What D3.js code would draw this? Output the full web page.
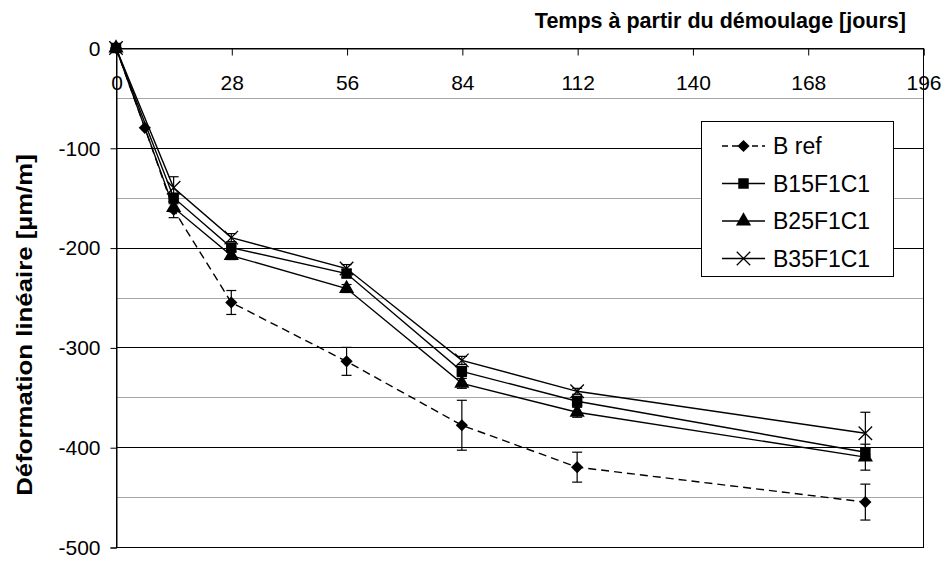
<!DOCTYPE html>
<html>
<head>
<meta charset="utf-8">
<script src="https://cdn.jsdelivr.net/npm/d3@7/dist/d3.min.js"></script>
<style>
  html, body { margin: 0; padding: 0; background: #fff; }
  svg { display: block; font-family: "Liberation Sans", Arial, sans-serif; }
</style>
</head>
<body>
<svg id="chart" width="948" height="561"></svg>
<script>
// Shrinkage measurements (µm/m) after demoulding
const daysRef = [0, 7, 14, 28, 56, 84, 112, 182];
const daysFib = [0, 14, 28, 56, 84, 112, 182];

const bRef      = [0, -80, -162, -255, -314, -378, -420, -455];
const bRefErr   = [0, 0, 8, 12, 14, 25, 15, 18];
const b15F1C1   = [0, -150, -200, -226, -324, -354, -405];
const b15Err    = [0, 4, 4, 4, 5, 5, 4];
const b25F1C1   = [0, -160, -208, -241, -336, -365, -410];
const b25Err    = [0, 4, 4, 4, 5, 5, 13];
const b35F1C1   = [0, -140, -190, -221, -313, -344, -386];
const b35Err    = [0, 11, 4, 4, 4, 3, 21];

const seriesNames = ["B ref", "B15F1C1", "B25F1C1", "B35F1C1"];
const xTicks = [0, 28, 56, 84, 112, 140, 168, 196];
const yMajorTicks = [0, -100, -200, -300, -400, -500];
const yMinorTicks = [-50, -150, -250, -350, -450];
const xTitle = "Temps à partir du démoulage [jours]";
const yTitle = "Déformation linéaire [µm/m]";

const series = [
  { name: seriesNames[0], x: daysRef, y: bRef, err: bRefErr, symbol: "diamond", dash: "8,5" },
  { name: seriesNames[1], x: daysFib, y: b15F1C1, err: b15Err, symbol: "square", dash: null },
  { name: seriesNames[2], x: daysFib, y: b25F1C1, err: b25Err, symbol: "triangle", dash: null },
  { name: seriesNames[3], x: daysFib, y: b35F1C1, err: b35Err, symbol: "cross", dash: null }
];

const svg = d3.select("#chart");
const plotLeft = 116, plotRight = 923, plotTop = 48, plotBottom = 547;
const fontFamily = '"Liberation Sans", Arial, sans-serif';

const x = d3.scaleLinear().domain([0, 196]).range([plotLeft, plotRight]);
const y = d3.scaleLinear().domain([-500, 0]).range([plotBottom, plotTop]);

// Gridlines: light minor lines every 50, dark major lines every 100
svg.append("g").selectAll("line").data(yMinorTicks).join("line")
  .attr("x1", plotLeft).attr("x2", plotRight)
  .attr("y1", d => Math.round(y(d)) + 0.5).attr("y2", d => Math.round(y(d)) + 0.5)
  .attr("stroke", "#a6a6a6").attr("stroke-width", 1);
svg.append("g").selectAll("line").data(yMajorTicks.filter(d => d !== 0 && d !== -500)).join("line")
  .attr("x1", plotLeft).attr("x2", plotRight)
  .attr("y1", d => Math.round(y(d)) + 0.5).attr("y2", d => Math.round(y(d)) + 0.5)
  .attr("stroke", "#000").attr("stroke-width", 1);

// Plot area frame
svg.append("rect")
  .attr("x", plotLeft + 0.5).attr("y", plotTop + 0.5)
  .attr("width", plotRight - plotLeft).attr("height", plotBottom - plotTop)
  .attr("fill", "none").attr("stroke", "#000").attr("stroke-width", 1);

const plainNumber = d => String(d);

// X axis along the top (value 0), labels underneath
const xAxis = d3.axisBottom(x).tickValues(xTicks).tickSize(7).tickPadding(20).tickFormat(plainNumber);
const gx = svg.append("g").attr("transform", `translate(0.5,${plotTop + 0.5})`).call(xAxis);
gx.select(".domain").attr("stroke", "#000");
gx.selectAll("text").attr("font-size", 21).attr("fill", "#000").attr("font-family", fontFamily);

// Y axis on the left
const yAxis = d3.axisLeft(y).tickValues(yMajorTicks).tickSize(6).tickPadding(10).tickFormat(plainNumber);
const gy = svg.append("g").attr("transform", `translate(${plotLeft + 0.5},0.5)`).call(yAxis);
gy.select(".domain").attr("stroke", "#000");
gy.selectAll("text").attr("font-size", 21).attr("fill", "#000").attr("font-family", fontFamily);

// Axis titles
svg.append("text").attr("x", 906).attr("y", 28).attr("text-anchor", "end")
  .attr("font-size", 21.5).attr("font-weight", "bold").text(xTitle);
svg.append("text").attr("transform", "translate(32,325) rotate(-90) scale(1.2,1)").attr("text-anchor", "middle")
  .attr("font-size", 21.5).attr("font-weight", "bold").text(yTitle);

// Marker shapes
const symbolMap = {
  diamond: d3.symbol().type(d3.symbolDiamond2).size(95),
  square: d3.symbol().type(d3.symbolSquare).size(110),
  triangle: d3.symbol().type(d3.symbolTriangle).size(100),
  cross: d3.symbol().type(d3.symbolX).size(120)
};
function drawMarker(g, s, cx, cy) {
  const path = g.append("path").attr("d", symbolMap[s.symbol]())
    .attr("transform", `translate(${cx},${cy})`);
  if (s.symbol === "cross") path.attr("fill", "none").attr("stroke", "#000").attr("stroke-width", 1.3);
  else path.attr("fill", "#000");
}

const line = d3.line().x(d => x(d[0])).y(d => y(d[1]));
const plot = svg.append("g");

series.forEach(s => {
  const pts = s.x.map((d, i) => [d, s.y[i], s.err[i]]);
  // Error bars
  const eb = plot.append("g").attr("stroke", "#000").attr("stroke-width", 1.2);
  pts.filter(p => p[2] > 0).forEach(p => {
    const cx = x(p[0]);
    eb.append("line").attr("x1", cx).attr("x2", cx).attr("y1", y(p[1] + p[2])).attr("y2", y(p[1] - p[2]));
    [p[1] + p[2], p[1] - p[2]].forEach(v => {
      eb.append("line").attr("x1", cx - 5).attr("x2", cx + 5).attr("y1", y(v)).attr("y2", y(v));
    });
  });
  plot.append("path").datum(pts).attr("d", line)
    .attr("fill", "none").attr("stroke", "#000").attr("stroke-width", 1.4)
    .attr("stroke-dasharray", s.dash);
  const mg = plot.append("g");
  pts.forEach(p => drawMarker(mg, s, x(p[0]), y(p[1])));
});

// Legend
const legend = svg.append("g");
legend.append("rect").attr("x", 701.5).attr("y", 121.5).attr("width", 192).attr("height", 155)
  .attr("fill", "#fff").attr("stroke", "#000").attr("stroke-width", 1);
series.forEach((s, i) => {
  const ly = 146 + i * 37.5;
  legend.append("line").attr("x1", 722).attr("x2", 765).attr("y1", ly).attr("y2", ly)
    .attr("stroke", "#000").attr("stroke-width", 1.3).attr("stroke-dasharray", s.dash ? "6,4" : null);
  drawMarker(legend, s, 743.5, ly);
  legend.append("text").attr("x", 773).attr("y", ly).attr("dy", "0.36em")
    .attr("font-size", 23).text(s.name);
});
</script>
</body>
</html>
